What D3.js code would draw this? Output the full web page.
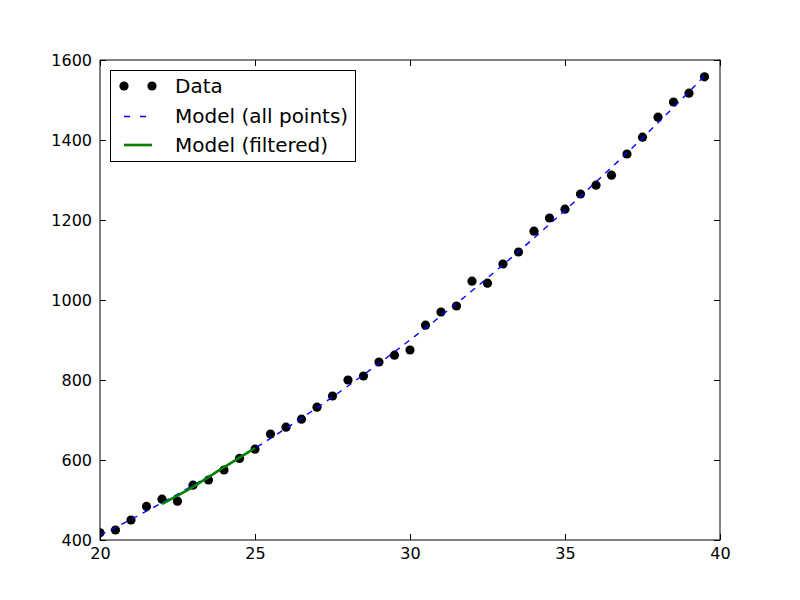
<!DOCTYPE html>
<html>
<head>
<meta charset="utf-8">
<script src="https://cdn.jsdelivr.net/npm/d3@7"></script>
<style>
  html, body { margin: 0; padding: 0; background: #fff; }
  svg { display: block; font-family: "DejaVu Sans", sans-serif; }
</style>
</head>
<body>
<svg id="chart" width="800" height="600"></svg>
<script>
// ---- data ----
const dataX = [20,20.5,21,21.5,22,22.5,23,23.5,24,24.5,25,25.5,26,26.5,27,27.5,28,28.5,29,29.5,
               30,30.5,31,31.5,32,32.5,33,33.5,34,34.5,35,35.5,36,36.5,37,37.5,38,38.5,39,39.5];
const dataY = [418,425,450,484,502,497,537,550,575,604,627,665,682,702,732,760,800,810,845,862,
               875,937,970,985,1047,1042,1090,1120,1172,1205,1227,1265,1287,1312,1365,1407,1457,1495,1517,1558];

const modelAllX = [20,22,24,26,28,30,32,34,36,38,39.5];
const modelAllY = [412,493,582,679,785,900,1023,1155,1295,1443,1560];

const modelFiltX = [22,22.5,23,23.5,24,24.5,25];
const modelFiltY = [490,511,533,557,582,606,630];

const xTicks = [20,25,30,35,40];
const yTicks = [400,600,800,1000,1200,1400,1600];
const legendLabels = ["Data","Model (all points)","Model (filtered)"];

// ---- layout ----
const svg = d3.select("#chart");
const pLeft = 100, pRight = 720, pTop = 60, pBottom = 540;
const x = d3.scaleLinear().domain([20,40]).range([pLeft,pRight]);
const y = d3.scaleLinear().domain([400,1600]).range([pBottom,pTop]);

svg.append("defs").append("clipPath").attr("id","clip")
  .append("rect").attr("x",pLeft).attr("y",pTop).attr("width",pRight-pLeft).attr("height",pBottom-pTop);

const plot = svg.append("g").attr("clip-path","url(#clip)");

// data points
const pts = dataX.map((v,i)=>({x:v,y:dataY[i]}));
plot.selectAll("circle.pt").data(pts).enter().append("circle")
  .attr("class","pt")
  .attr("cx",d=>x(d.x)).attr("cy",d=>y(d.y)).attr("r",4.6)
  .attr("fill","#000");

// model lines
const line = d3.line().x(d=>x(d[0])).y(d=>y(d[1])).curve(d3.curveMonotoneX);
plot.append("path")
  .attr("d", line(modelAllX.map((v,i)=>[v,modelAllY[i]])))
  .attr("fill","none").attr("stroke","#0000ff").attr("stroke-width",1.4)
  .attr("stroke-dasharray","6,6");
plot.append("path")
  .attr("d", line(modelFiltX.map((v,i)=>[v,modelFiltY[i]])))
  .attr("fill","none").attr("stroke","#008000").attr("stroke-width",2.6);

// axes (ticks inward, on all sides)
const tl = 6;
const axB = svg.append("g").attr("transform",`translate(0,${pBottom})`)
  .call(d3.axisBottom(x).tickValues(xTicks).tickSizeInner(-tl).tickSizeOuter(0).tickPadding(8).tickFormat(d3.format("d")));
const axT = svg.append("g").attr("transform",`translate(0,${pTop})`)
  .call(d3.axisTop(x).tickValues(xTicks).tickSizeInner(-tl).tickSizeOuter(0).tickFormat(""));
const axL = svg.append("g").attr("transform",`translate(${pLeft},0)`)
  .call(d3.axisLeft(y).tickValues(yTicks).tickSizeInner(-tl).tickSizeOuter(0).tickPadding(8).tickFormat(d3.format("d")));
const axR = svg.append("g").attr("transform",`translate(${pRight},0)`)
  .call(d3.axisRight(y).tickValues(yTicks).tickSizeInner(-tl).tickSizeOuter(0).tickFormat(""));
[axB,axT,axL,axR].forEach(a=>{
  a.select(".domain").remove();
  a.selectAll(".tick line").attr("stroke","#000").attr("stroke-width",1);
  a.selectAll("text").attr("font-family","DejaVu Sans").attr("font-size",16).attr("fill","#000");
});
axB.selectAll("text").attr("dy","0.71em").attr("y",8);

// frame
svg.append("rect").attr("x",pLeft).attr("y",pTop).attr("width",pRight-pLeft).attr("height",pBottom-pTop)
  .attr("fill","none").attr("stroke","#000").attr("stroke-width",1);

// legend
const lg = svg.append("g");
lg.append("rect").attr("x",110.5).attr("y",70.5).attr("width",245).attr("height",91)
  .attr("fill","#fff").attr("stroke","#000").attr("stroke-width",1);
const rowY = [86,116,145];
lg.selectAll("circle.lg").data([124,152]).enter().append("circle")
  .attr("cx",d=>d).attr("cy",rowY[0]).attr("r",4.6).attr("fill","#000");
lg.append("line").attr("x1",124).attr("x2",152).attr("y1",rowY[1]+0.5).attr("y2",rowY[1]+0.5)
  .attr("stroke","#0000ff").attr("stroke-width",1.4).attr("stroke-dasharray","6,10,6");
lg.append("line").attr("x1",124).attr("x2",152).attr("y1",rowY[2]).attr("y2",rowY[2])
  .attr("stroke","#008000").attr("stroke-width",2.6);
lg.selectAll("text").data(legendLabels).enter().append("text")
  .attr("x",175).attr("y",(d,i)=>rowY[i]).attr("dy","0.36em")
  .attr("font-family","DejaVu Sans").attr("font-size",20).attr("fill","#000")
  .text(d=>d);
</script>
</body>
</html>
